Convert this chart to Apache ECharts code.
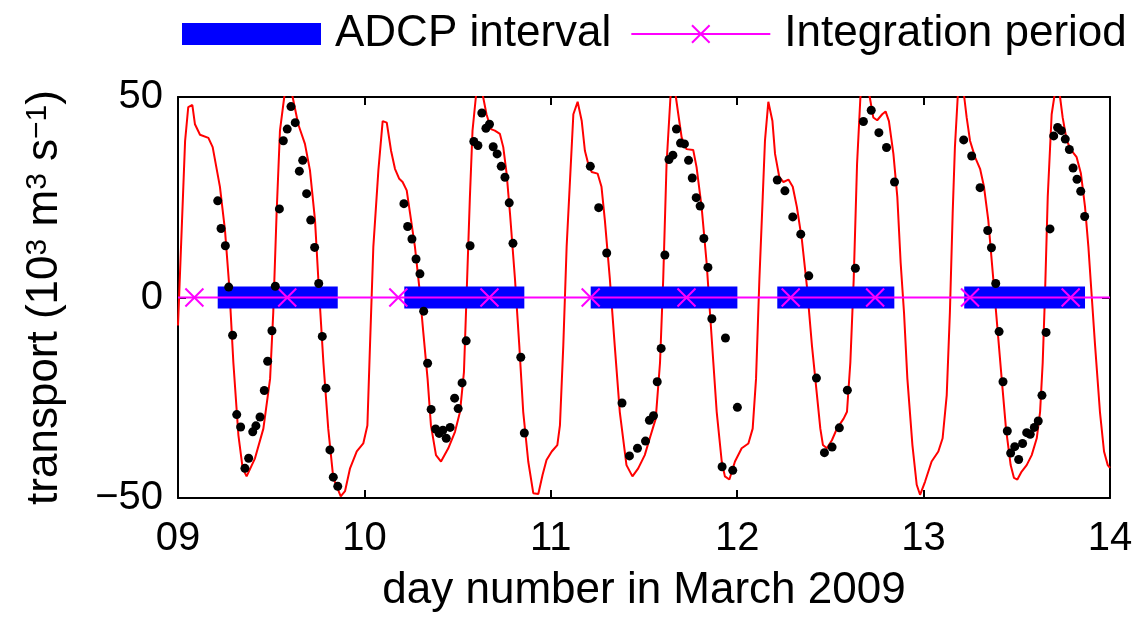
<!DOCTYPE html>
<html>
<head>
<meta charset="utf-8">
<script src="https://cdn.jsdelivr.net/npm/echarts@6/dist/echarts.min.js"></script>
<style>
html,body{margin:0;padding:0;background:#fff;}
#chart{width:1143px;height:618px;}
</style>
</head>
<body>
<div id="chart"></div>
<script>
// ---- model transport (red line): day, value (10^3 m^3 s^-1)
const modelDay = [
9.000,9.038,9.055,9.077,9.091,9.118,9.163,9.186,9.225,9.252,9.275,9.297,9.324,9.347,9.368,9.413,9.458,9.494,9.511,9.529,9.547,9.570,9.592,9.615,9.645,9.681,9.708,9.735,9.753,9.780,9.806,9.833,9.873,9.896,9.923,9.959,9.994,
10.016,10.030,10.048,10.075,10.098,10.120,10.143,10.164,10.187,10.205,10.227,10.245,10.271,10.294,10.316,10.339,10.357,10.384,10.411,10.450,10.486,10.513,10.534,10.548,10.566,10.580,10.598,10.617,10.637,10.655,10.679,10.700,10.727,10.745,10.763,10.781,10.808,10.831,10.852,10.879,10.906,10.933,10.956,10.977,
11.005,11.035,11.049,11.067,11.085,11.103,11.121,11.144,11.166,11.183,11.201,11.219,11.251,11.272,11.290,11.317,11.343,11.370,11.406,11.438,11.469,11.504,11.531,11.563,11.586,11.603,11.621,11.642,11.656,11.671,11.684,11.702,11.728,11.764,11.782,11.809,11.836,11.854,11.872,11.890,11.917,11.934,11.958,11.988,
12.024,12.060,12.083,12.101,12.119,12.137,12.149,12.167,12.189,12.203,12.226,12.248,12.275,12.298,12.320,12.347,12.374,12.401,12.428,12.446,12.460,12.481,12.508,12.535,12.571,12.589,12.607,12.625,12.643,12.661,12.686,12.711,12.730,12.751,12.778,12.796,12.814,12.838,12.859,12.877,12.895,12.913,12.940,12.963,12.981,
13.008,13.043,13.079,13.102,13.124,13.141,13.156,13.168,13.183,13.200,13.218,13.231,13.249,13.276,13.303,13.324,13.347,13.374,13.401,13.419,13.442,13.467,13.485,13.503,13.526,13.553,13.580,13.607,13.625,13.639,13.651,13.666,13.687,13.701,13.716,13.732,13.746,13.768,13.794,13.821,13.844,13.866,13.884,13.902,13.920,13.946,13.968,13.988,14.000
];
const modelVal = [
-7,39,47.5,48,43.2,40.6,39.8,37.5,27.6,16.8,2.8,-16.2,-34.3,-42.6,-44.6,-40.1,-32.7,-20.3,-3.8,21,41.6,50,55,50,43.2,38.3,31.7,19.3,4.5,-16.2,-32.7,-45,-49.6,-48.3,-42.6,-38.4,-36.4,
-31.9,-12,12.7,31.7,44,43.6,36.6,32.1,29.6,28.8,26.7,21,12.7,2.8,-8.7,-20.3,-31.9,-39.3,-40.9,-37.6,-33.5,-28.5,-18.6,0.3,25.1,41.6,50,55,50,45.7,42,41.6,40.8,37.5,30.9,21,4.5,-12,-28.5,-40.9,-48.8,-49,-44.2,-40.5,
-38.4,-36.8,-31.9,-12,12.7,29.2,45.7,48.8,44,36.6,33.3,31.3,30.9,27.6,19.3,4.5,-12,-28.5,-41.8,-44.6,-42.6,-39.3,-35.1,-30.2,-16.2,4.5,33.3,50,54,50,45.7,39.9,37,36.8,32.5,22.6,8.6,-3.8,-16.2,-28.5,-40.9,-44.6,-45.4,-40.9,
-37.6,-36.4,-32.7,-20.3,4.5,25.1,39.1,48.8,44,35.8,30,28.8,29.4,27.6,22.6,14.4,2.8,-12,-24.4,-32.7,-36.8,-37.6,-35.6,-32.7,-30.2,-28.5,-16.2,4.5,33.3,50,55,50,44.9,44.2,45.7,46.4,44,35.8,25.1,8.6,-3.8,-20.3,-36.8,-46.7,-49.2,
-45.9,-40.9,-38.4,-35.1,-24.4,-3.8,21,37.5,50,54,50,44.9,39.1,35,32.1,27.6,19.3,4.5,-10.4,-20.3,-32.7,-41.8,-45,-45.4,-43.4,-41.8,-39.3,-35.1,-28.5,-16.2,0.3,25.1,45.7,50,54,50,44.9,39.1,36.6,35,30.9,22.6,12.7,0.3,-12,-28.5,-38.4,-41.8,-42.5
];

// ---- ADCP observations (black dots)
const obsDay = [
9.213,9.231,9.254,9.272,9.293,9.315,9.336,9.359,9.379,9.401,9.418,9.440,9.463,9.481,9.504,9.522,9.544,9.565,9.586,9.606,9.629,9.651,9.669,9.690,9.712,9.733,9.755,9.774,9.794,9.815,9.833,9.857,
10.212,10.232,10.255,10.277,10.298,10.318,10.339,10.358,10.382,10.401,10.421,10.439,10.460,10.484,10.503,10.524,10.546,10.567,10.587,10.609,10.630,10.652,10.671,10.691,10.712,10.734,10.754,10.777,10.797,10.839,10.858,
11.212,11.257,11.300,11.382,11.422,11.465,11.508,11.529,11.551,11.571,11.592,11.612,11.634,11.655,11.674,11.696,11.717,11.739,11.759,11.780,11.801,11.821,11.843,11.864,11.919,11.937,11.976,12.001,
12.215,12.256,12.298,12.341,12.384,12.425,12.468,12.509,12.548,12.591,12.634,12.677,12.719,12.760,12.801,12.844,
13.215,13.258,13.303,13.344,13.364,13.387,13.405,13.426,13.449,13.467,13.489,13.510,13.531,13.553,13.572,13.594,13.615,13.635,13.657,13.678,13.698,13.719,13.739,13.760,13.782,13.802,13.823,13.843,13.864
];
const obsVal = [
24.1,17.2,12.9,2.6,-9.4,-29.2,-32.3,-42.6,-40.1,-33.5,-32,-29.8,-23.2,-15.9,-8.3,2.8,22.1,39.1,42,47.6,43.6,31.5,34.2,25.9,19.3,12.5,3.5,-9.7,-22.6,-38,-44.8,-47.1,
23.4,17.7,14.6,9.6,5.9,-3.4,-16.4,-27.9,-32.8,-33.9,-33.1,-35.1,-32.4,-25.1,-27.7,-21.3,-10.8,12.9,38.9,37.9,46,42.2,43.2,37.6,35.8,32.7,30,23.6,13.5,-14.9,-33.8,
32.7,22.4,11.1,-26.3,-39.5,-37.6,-35.8,-30.6,-29.5,-21,-12.7,10.6,34.4,35.5,42,38.5,38.3,34.2,29.8,24.9,22.8,14.7,7.5,-5.3,-42.2,-10.1,-43.1,-27.4,
29.3,26.6,20.1,15.8,5.4,-20.1,-38.7,-37.3,-32.5,-23.1,7.3,43.9,46.7,41.1,37.4,28.8,
39.3,35.3,27.4,16.7,12.4,3.5,-8.5,-21,-33.3,-38.8,-37.2,-40.4,-36.4,-33.7,-34.1,-32.4,-30.8,-24.4,-8.7,17.1,40.3,42.4,41.6,39.5,36.9,32.3,29.5,26.5,20.2
];

// ---- ADCP intervals (blue bars at zero)
const adcpStart = [9.213, 10.214, 11.214, 12.215, 13.218];
const adcpEnd   = [9.857, 10.858, 12.001, 12.843, 13.866];

// ---- Integration period markers
const integDay = [9.088, 9.586, 10.182, 10.671, 11.214, 11.728, 12.287, 12.740, 13.249, 13.789];

// ---- axes
const xMin = 9, xMax = 14, xStep = 1;
const yMin = -50, yMax = 50, yStep = 50;

const FONT = "'Liberation Sans', Arial, Helvetica, sans-serif";

const chart = echarts.init(document.getElementById('chart'), null, {renderer: 'canvas'});

const series = [];
series.push({
  name: 'model', type: 'line', data: modelDay.map((d, i) => [d, modelVal[i]]),
  showSymbol: false, clip: true,
  lineStyle: {color: '#ff0000', width: 2}, itemStyle: {color: '#ff0000'},
  z: 2, silent: true
});
adcpStart.forEach((s, i) => {
  series.push({
    name: 'ADCP interval', type: 'line', data: [[s, 0], [adcpEnd[i], 0]],
    showSymbol: false, symbol: 'none',
    lineStyle: {color: '#0000ff', width: 22, cap: 'butt'}, itemStyle: {color: '#0000ff'},
    z: 3, silent: true
  });
});
const integData = [{value: [xMin, 0], symbol: 'none'}]
  .concat(integDay.map(d => [d, 0]))
  .concat([{value: [xMax, 0], symbol: 'none'}]);
series.push({
  name: 'Integration period', type: 'line', data: integData,
  symbol: 'path://M0,0L10,10M10,0L0,10', symbolSize: 18, showSymbol: true, showAllSymbol: true,
  lineStyle: {color: '#ff00ff', width: 2},
  itemStyle: {color: '#ff00ff', borderColor: '#ff00ff', borderWidth: 2},
  z: 4, silent: true
});
series.push({
  name: 'ADCP', type: 'scatter', data: obsDay.map((d, i) => [d, obsVal[i]]),
  symbol: 'circle', symbolSize: 9, itemStyle: {color: '#000', opacity: 1},
  z: 5, silent: true
});

const axisLineStyle = {show: true, onZero: false, lineStyle: {color: '#000', width: 2}};
const tickStyle = {show: true, inside: true, length: 8, lineStyle: {color: '#000', width: 2}};

chart.setOption({
  animation: false,
  backgroundColor: '#fff',
  textStyle: {fontFamily: FONT},
  legend: {
    top: 7, left: 177,
    itemWidth: 139, itemHeight: 22, itemGap: 19,
    selectedMode: false,
    data: [
      {name: 'ADCP interval', icon: 'rect', itemStyle: {color: '#0000ff'}},
      {name: 'Integration period'}
    ],
    formatter: n => '{a|' + n + '}',
    textStyle: {fontSize: 44, color: '#000', fontFamily: FONT,
      rich: {a: {fontSize: 44, color: '#000', fontFamily: FONT, padding: [0, 0, 0, 9]}}}
  },
  grid: {left: 178, right: 33, top: 97, bottom: 118, containLabel: false},
  xAxis: [{
    type: 'value', min: xMin, max: xMax, interval: xStep, position: 'bottom',
    axisLine: axisLineStyle, axisTick: tickStyle, splitLine: {show: false},
    axisLabel: {fontSize: 40, color: '#000', fontFamily: FONT, margin: 21,
      formatter: v => (v < 10 ? '0' : '') + v},
    name: 'day number in March 2009', nameLocation: 'middle', nameGap: 71,
    nameTextStyle: {fontSize: 44, color: '#000', fontFamily: FONT}
  }, {
    type: 'value', min: xMin, max: xMax, interval: xStep, position: 'top',
    axisLine: axisLineStyle, axisTick: tickStyle, axisLabel: {show: false}, splitLine: {show: false}
  }],
  yAxis: [{
    type: 'value', min: yMin, max: yMax, interval: yStep, position: 'left',
    axisLine: axisLineStyle, axisTick: tickStyle, splitLine: {show: false},
    axisLabel: {fontSize: 40, color: '#000', fontFamily: FONT, margin: 15,
      formatter: v => String(v).replace('-', '\u2212')},
    name: '{b|transport (10}{s|3}{b| m}{s|3}{b| s}{s|\u22121}{b|)}',
    nameLocation: 'middle', nameGap: 111, nameRotate: 90,
    nameTextStyle: {fontSize: 44, color: '#000', fontFamily: FONT,
      rich: {
        b: {fontSize: 44, lineHeight: 44, color: '#000', fontFamily: FONT, verticalAlign: 'bottom', padding: [13, 0, 0, 0]},
        s: {fontSize: 30, lineHeight: 30, color: '#000', fontFamily: FONT, verticalAlign: 'top'}
      }}
  }, {
    type: 'value', min: yMin, max: yMax, interval: yStep, position: 'right',
    axisLine: axisLineStyle, axisTick: tickStyle, axisLabel: {show: false}, splitLine: {show: false}
  }],
  series: series
});
</script>
</body>
</html>
